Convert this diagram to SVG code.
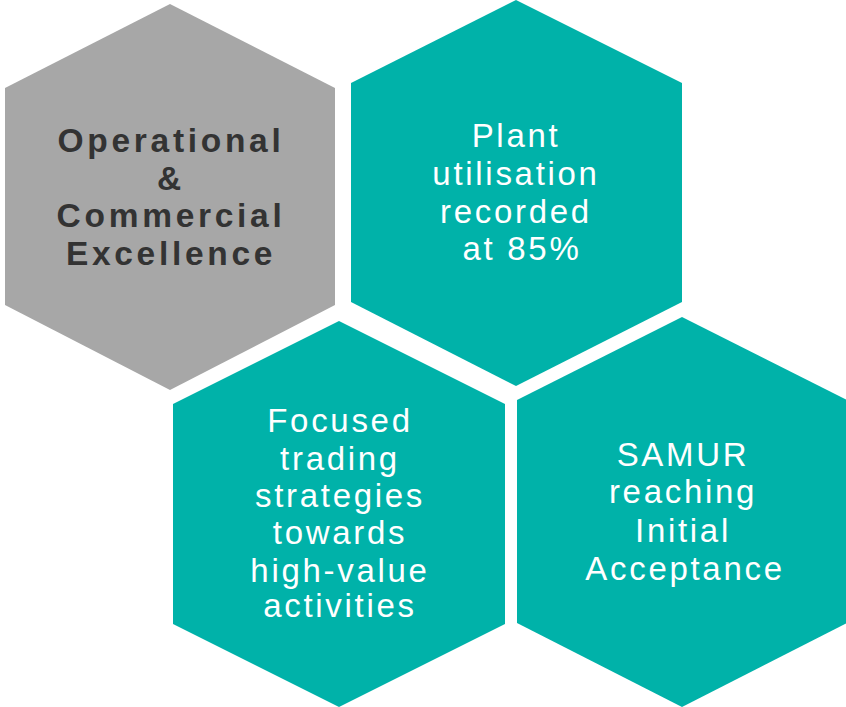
<svg xmlns="http://www.w3.org/2000/svg" width="846" height="707" viewBox="0 0 846 707">
<style>
.gray{fill:#a7a7a7}
.teal{fill:#00b2a9}
.dark{font-family:"Liberation Sans",Arial,sans-serif;font-weight:bold;font-size:33.5px;fill:#333333;letter-spacing:3.7px;text-anchor:middle}
.light{font-family:"Liberation Sans",Arial,sans-serif;font-size:33px;fill:#ffffff;letter-spacing:2.7px;text-anchor:middle}
</style>
<rect width="846" height="707" fill="#ffffff"/>
<g id="node-operational">
<polygon class="gray" points="170,4 335,88 335,305 170,390 5,305 5,88"/>
<text class="dark"><tspan x="171" y="152">Operational</tspan><tspan x="171" y="190">&amp;</tspan><tspan x="171" y="227">Commercial</tspan><tspan x="171" y="265">Excellence</tspan></text>
</g>
<g id="node-plant">
<polygon class="teal" points="516,0 682,83 682,302 516,386 351,302 351,83"/>
<text class="light"><tspan x="516" y="147">Plant</tspan><tspan x="516" y="185">utilisation</tspan><tspan x="516" y="223">recorded</tspan><tspan x="522" y="260">at 85%</tspan></text>
</g>
<g id="node-trading">
<polygon class="teal" points="339,321 505,404 505,624 339,707 173,624 173,404"/>
<text class="light"><tspan x="340" y="432">Focused</tspan><tspan x="340" y="470">trading</tspan><tspan x="340" y="507">strategies</tspan><tspan x="340" y="544">towards</tspan><tspan x="340" y="582">high-value</tspan><tspan x="340" y="617">activities</tspan></text>
</g>
<g id="node-samur">
<polygon class="teal" points="682,317 847,400 847,623 682,707 517,623 517,400"/>
<text class="light"><tspan x="683" y="466">SAMUR</tspan><tspan x="683" y="503">reaching</tspan><tspan x="683" y="542">Initial</tspan><tspan x="685" y="580">Acceptance</tspan></text>
</g>
<g id="connectors"/>
</svg>
